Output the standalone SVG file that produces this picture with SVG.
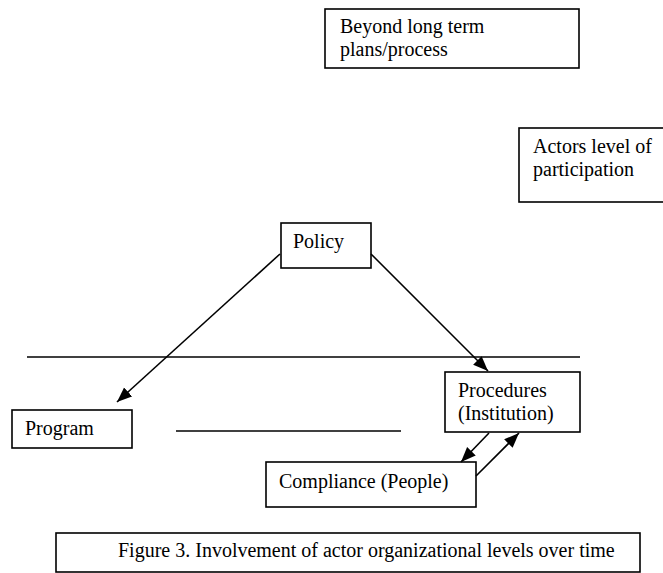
<svg xmlns="http://www.w3.org/2000/svg" width="663" height="573" viewBox="0 0 663 573">
<style>
.box{fill:#fff;stroke:#000;stroke-width:1.6}
.t{font-family:"Liberation Serif","Times New Roman",serif;font-size:20px;fill:#000}
.ln{stroke:#000;stroke-width:1.6;fill:none}
</style>
<defs>
<marker id="ah" markerUnits="userSpaceOnUse" markerWidth="16" markerHeight="14" refX="15" refY="6" orient="auto">
<path d="M0,0 L15,6 L0,12 Z" fill="#000"/>
</marker>
</defs>
<rect width="663" height="573" fill="#fff"/>
<g id="dividers">
<line class="ln" x1="27" y1="357" x2="580" y2="357"/>
<line class="ln" x1="176" y1="431" x2="401" y2="431"/>
</g>
<g id="beyond">
<rect class="box" x="325" y="9" width="254" height="59"/>
<text class="t" x="340" y="33">Beyond long term</text>
<text class="t" x="340" y="56">plans/process</text>
</g>
<g id="actors">
<rect class="box" x="519" y="128" width="150" height="74"/>
<text class="t" x="533" y="153">Actors level of</text>
<text class="t" x="533" y="176">participation</text>
</g>
<g id="policy">
<rect class="box" x="281" y="223" width="90" height="45"/>
<text class="t" x="293" y="248">Policy</text>
</g>
<g id="procedures">
<rect class="box" x="445" y="372" width="135" height="60"/>
<text class="t" x="458" y="397">Procedures</text>
<text class="t" x="458" y="420">(Institution)</text>
</g>
<g id="program">
<rect class="box" x="12" y="410" width="120" height="38"/>
<text class="t" x="25" y="435">Program</text>
</g>
<g id="compliance">
<rect class="box" x="266" y="462" width="210" height="45"/>
<text class="t" x="279" y="488">Compliance (People)</text>
</g>
<g id="caption">
<rect class="box" x="56" y="533" width="584" height="39"/>
<text class="t" x="118" y="557">Figure 3. Involvement of actor organizational levels over time</text>
</g>
<g id="connectors">
<line class="ln" x1="280" y1="254" x2="117" y2="402" marker-end="url(#ah)"/>
<line class="ln" x1="371" y1="254" x2="488" y2="371" marker-end="url(#ah)"/>
<line class="ln" x1="489" y1="433" x2="461" y2="462" marker-end="url(#ah)"/>
<line class="ln" x1="476" y1="476" x2="519" y2="433" marker-end="url(#ah)"/>
</g>
</svg>
